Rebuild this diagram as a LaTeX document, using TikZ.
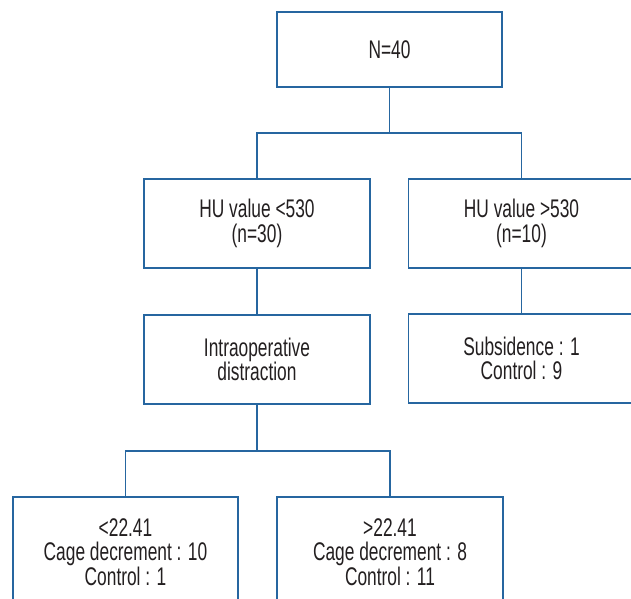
\documentclass[tikz,border=0pt]{standalone}
\usepackage{fontspec}
\setmainfont{Liberation Sans}[FakeStretch=0.68]
\definecolor{boxblue}{RGB}{38,102,160}
\definecolor{txt}{RGB}{35,31,32}
\begin{document}
\begin{tikzpicture}[x=1pt,y=-1pt,
  flowbox/.style={draw=boxblue,line width=1.3pt,fill=white,rectangle,align=center,
    text=txt,font=\fontsize{25.5}{24.5}\selectfont,inner sep=0pt},
  link/.style={draw=boxblue,line width=1.3pt}]
\useasboundingbox (0,0) rectangle (631,598);
\clip (0,0) rectangle (631,598);
\node[flowbox,minimum width=225pt,minimum height=75pt] (top) at (389.5,49.5) {N=40};
\node[flowbox,minimum width=226pt,minimum height=89pt] (hu1) at (257,223.5) {HU value <530\\(n=30)};
\node[flowbox,minimum width=226pt,minimum height=89pt] (hu2) at (521.5,223.5) {HU value >530\\(n=10)};
\node[flowbox,minimum width=226pt,minimum height=89pt] (intra) at (257,359.5) {Intraoperative\\distraction};
\node[flowbox,minimum width=226pt,minimum height=89pt] (sub) at (521.5,358.5) {Subsidence : 1\\Control : 9};
\node[flowbox,minimum width=225pt,minimum height=110pt] (b1) at (125.5,552) {<22.41\\Cage decrement : 10\\Control : 1};
\node[flowbox,minimum width=226pt,minimum height=110pt] (b2) at (390,552) {>22.41\\Cage decrement : 8\\Control : 11};
\coordinate (j1) at (389.5,133);
\coordinate (j2) at (257,451);
\draw[link] (top.south) -- (j1);
\draw[link] (hu1.north) |- (j1) -| (hu2.north);
\draw[link] (hu1.south) -- (intra.north);
\draw[link] (hu2.south) -- (sub.north);
\draw[link] (intra.south) -- (j2);
\draw[link] (b1.north) |- (j2) -| (b2.north);
\end{tikzpicture}
\end{document}
